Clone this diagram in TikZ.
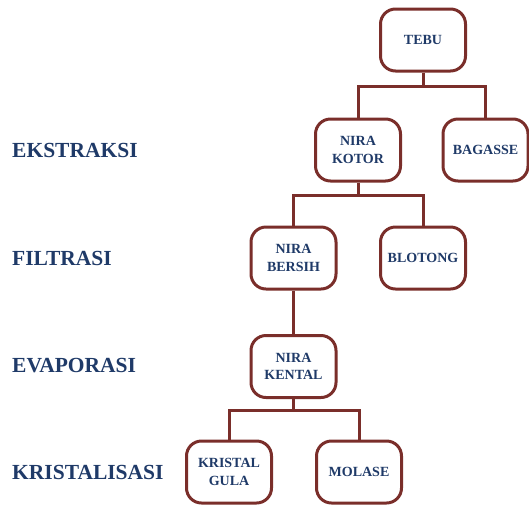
\documentclass[tikz,border=0pt]{standalone}
\usepackage{fontspec}
\setmainfont{Liberation Serif}
\definecolor{linered}{HTML}{7A2E2A}
\definecolor{textblue}{HTML}{1F3A68}
\begin{document}
\begin{tikzpicture}[x=1pt,y=-1pt,
  box/.style={draw=linered,line width=3pt,rounded corners=15pt,fill=white,
    minimum width=85pt,minimum height=62pt,inner sep=2pt,align=center,
    text=textblue,font=\bfseries\fontsize{14}{17.5}\selectfont},
  stage/.style={anchor=west,text=textblue,inner sep=0pt,font=\bfseries\fontsize{21.5}{25}\selectfont},
  conn/.style={draw=linered,line width=3pt}]
\useasboundingbox (0,0) rectangle (529,504);
% stage labels
\node[stage] (s1) at (12,150) {EKSTRAKSI};
\node[stage] (s2) at (12,258) {FILTRASI};
\node[stage] (s3) at (12,366) {EVAPORASI};
\node[stage] (s4) at (12,472) {KRISTALISASI};
% boxes
\node[box] (tebu) at (423,40) {TEBU};
\node[box] (kotor) at (358,150) {NIRA\\KOTOR};
\node[box] (bagasse) at (485.5,150) {BAGASSE};
\node[box] (bersih) at (293.5,258) {NIRA\\BERSIH};
\node[box] (blotong) at (423,258) {BLOTONG};
\node[box] (kental) at (293.5,366.5) {NIRA\\KENTAL};
\node[box] (gula) at (229,472) {KRISTAL\\GULA};
\node[box] (molase) at (359,472) {MOLASE};
% junctions
\coordinate (j1) at (423,86.5);
\coordinate (j2) at (358,195);
\coordinate (j3) at (293.5,410);
% connectors
\draw[conn] (tebu.south) -- (j1);
\draw[conn] (kotor.north) |- (j1) -| (bagasse.north);
\draw[conn] (kotor.south) -- (j2);
\draw[conn] (bersih.north) |- (j2) -| (blotong.north);
\draw[conn] (bersih.south) -- (kental.north);
\draw[conn] (kental.south) -- (j3);
\draw[conn] (gula.north) |- (j3) -| (molase.north);
\end{tikzpicture}
\end{document}
